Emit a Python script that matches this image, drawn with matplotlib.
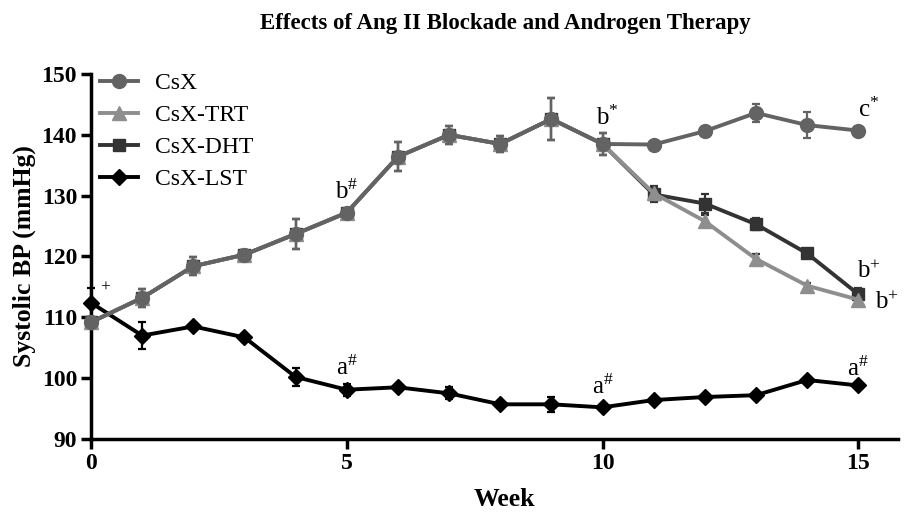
import matplotlib
matplotlib.use("Agg")
import matplotlib.pyplot as plt
from matplotlib.lines import Line2D

plt.rcParams['font.family'] = ['Liberation Serif', 'DejaVu Serif']
plt.rcParams['mathtext.fontset'] = 'custom'
plt.rcParams['mathtext.rm'] = 'Liberation Serif'
plt.rcParams['mathtext.it'] = 'Liberation Serif'

weeks = list(range(16))
csx = [109.2, 113.2, 118.4, 120.3, 123.7, 127.2, 136.4, 140.0, 138.5, 142.6, 138.5, 138.4, 140.6, 143.6, 141.6, 140.7]
csx_err = [0.8, 1.5, 1.5, 0.7, 2.5, 0.5, 2.4, 1.5, 1.3, 3.4, 1.8, 0.5, 0.5, 1.5, 2.2, 0.5]
trt = [109.2, 113.2, 118.4, 120.3, 123.7, 127.2, 136.4, 140.0, 138.5, 142.6, 138.5, 130.4, 125.8, 119.6, 115.2, 112.9]
trt_err = [0.8, 1.5, 1.5, 0.7, 2.5, 0.5, 2.4, 1.5, 1.3, 3.4, 1.8, 1.2, 1.0, 0.8, 0.5, 0.5]
dht = [109.2, 113.2, 118.4, 120.3, 123.7, 127.2, 136.4, 140.0, 138.5, 142.6, 138.5, 130.2, 128.7, 125.3, 120.5, 113.8]
dht_err = [0.8, 1.5, 1.5, 0.7, 2.5, 0.5, 2.4, 1.5, 1.3, 3.4, 1.8, 1.2, 1.5, 1.0, 0.5, 1.0]
lst = [112.4, 107.0, 108.5, 106.7, 100.2, 98.1, 98.5, 97.5, 95.7, 95.7, 95.2, 96.4, 96.9, 97.2, 99.7, 98.8]
lst_err = [2.5, 2.2, 0.4, 0.4, 1.5, 1.0, 0.4, 1.0, 0.4, 1.2, 0.4, 0.4, 0.4, 0.4, 0.4, 0.4]

labels = ['CsX', 'CsX-TRT', 'CsX-DHT', 'CsX-LST']
colors = ['#636363', '#8e8e8e', '#333333', '#000000']
markers = ['o', '^', 's', 'D']
msizes = [10, 10, 8.5, 8]

annotations = [
    (0.28, 114.2, r'$^{+}$'),
    (5.0, 130.6, r'b$^{\#}$'),
    (10.1, 142.8, r'b$^{*}$'),
    (15.2, 144.1, r'c$^{*}$'),
    (15.2, 117.5, r'b$^{+}$'),
    (15.55, 112.4, r'b$^{+}$'),
    (5.0, 101.7, r'a$^{\#}$'),
    (10.0, 98.6, r'a$^{\#}$'),
    (15.0, 101.6, r'a$^{\#}$'),
]

fig = plt.figure(figsize=(9.09, 5.17), dpi=100)
ax = fig.add_axes([0.1001, 0.1509, 0.888, 0.706])

series = [csx, trt, dht, lst]
errs = [csx_err, trt_err, dht_err, lst_err]
order = [3, 2, 1, 0]
for i in order:
    ax.errorbar(weeks, series[i], yerr=errs[i], color=colors[i], marker=markers[i],
                markersize=msizes[i], linewidth=2.8, elinewidth=1.6, capsize=3,
                capthick=1.6, ecolor=colors[i] if i != 1 else '#333333',
                clip_on=False, zorder=3 + (3 - i))

ax.set_xlim(0, 15.78)
ax.set_ylim(90, 150)
ax.set_xticks([0, 5, 10, 15])
ax.set_yticks([90, 100, 110, 120, 130, 140, 150])
for s in ['top', 'right']:
    ax.spines[s].set_visible(False)
for s in ['left', 'bottom']:
    ax.spines[s].set_linewidth(2.5)
ax.tick_params(axis='both', direction='out', width=2.5, length=7, labelsize=17, pad=3)
for lab in ax.get_xticklabels() + ax.get_yticklabels():
    lab.set_fontweight('bold')

ax.set_xlabel('Week', fontsize=18.5, fontweight='bold')
ax.xaxis.set_label_coords(0.512, -0.135)
ax.set_ylabel('Systolic BP (mmHg)', fontsize=18.5, fontweight='bold', labelpad=4)
fig.text(0.556, 0.955, 'Effects of Ang II Blockade and Androgen Therapy',
         ha='center', va='center', fontsize=16.5, fontweight='bold')

for x, y, t in annotations:
    ax.text(x, y, t, ha='center', va='center', fontsize=18, zorder=10)

handles = [Line2D([], [], color=colors[i], marker=markers[i], markersize=msizes[i],
                  linewidth=2.8) for i in range(4)]
leg = ax.legend(handles, labels, loc='upper left',
                bbox_to_anchor=(0.0, 1.03), frameon=False, fontsize=17,
                handlelength=1.6, handletextpad=0.7, labelspacing=0.45,
                borderaxespad=0.2, borderpad=0.2)

fig.savefig('out.png', dpi=100)
